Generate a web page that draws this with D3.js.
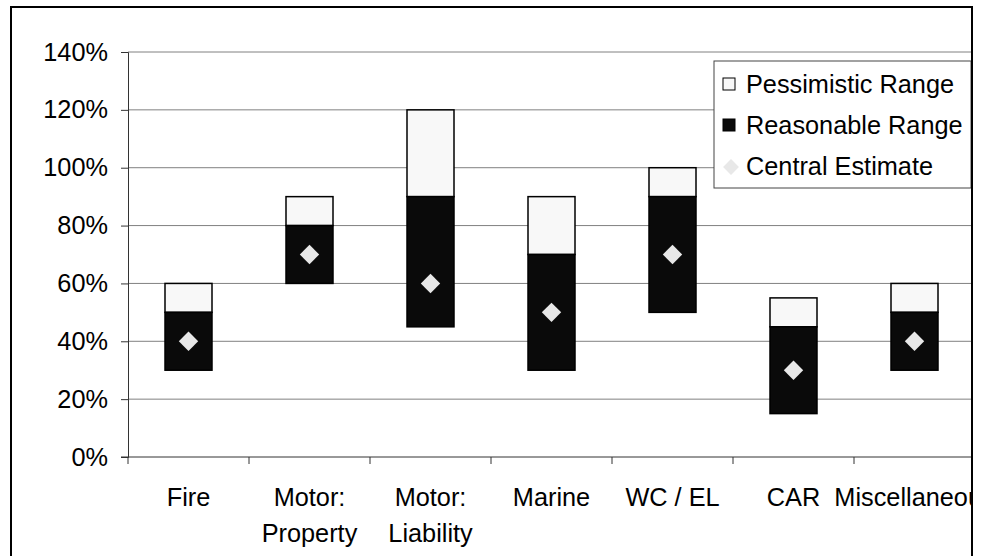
<!DOCTYPE html>
<html>
<head>
<meta charset="utf-8">
<script src="https://cdn.jsdelivr.net/npm/d3@7"></script>
<style>
  body { margin: 0; background: #fff; }
  text { font-family: "Liberation Sans", Arial, sans-serif; }
</style>
</head>
<body>
<main></main>
<script>
const categories = ['Fire', 'Motor: Property', 'Motor: Liability', 'Marine', 'WC / EL', 'CAR', 'Miscellaneous'];
const reasonableLow = [0.30, 0.60, 0.45, 0.30, 0.50, 0.15, 0.30];
const reasonableHigh = [0.50, 0.80, 0.90, 0.70, 0.90, 0.45, 0.50];
const pessimisticHigh = [0.60, 0.90, 1.20, 0.90, 1.00, 0.55, 0.60];
const centralEstimate = [0.40, 0.70, 0.60, 0.50, 0.70, 0.30, 0.40];
const yTicks = [0, 0.2, 0.4, 0.6, 0.8, 1.0, 1.2, 1.4];
const legendItems = ['Pessimistic Range', 'Reasonable Range', 'Central Estimate'];

const width = 986, height = 556;
const fontSize = 25.3;

const root = d3.select('main')
    .append('svg')
    .attr('width', width)
    .attr('height', height);

root.append('clipPath')
    .attr('id', 'frame')
    .append('rect')
    .attr('x', 11).attr('y', 7)
    .attr('width', 961).attr('height', 560);

const svg = root.append('g').attr('clip-path', 'url(#frame)');

const xScale = d3.scaleBand()
    .domain(categories)
    .range([128, 975]);

const yScale = d3.scaleLinear()
    .domain([0, 1.4])
    .range([457, 52]);

// gridlines
svg.append('g')
    .selectAll('line')
    .data(yTicks.filter(d => d > 0))
    .enter()
    .append('line')
    .attr('x1', 128)
    .attr('x2', 975)
    .attr('y1', d => yScale(d))
    .attr('y2', d => yScale(d))
    .attr('stroke', '#808080')
    .attr('stroke-width', 1);

// y axis
const yAxis = svg.append('g')
    .attr('transform', 'translate(128, 0)')
    .call(d3.axisLeft(yScale)
        .tickValues(yTicks)
        .tickFormat(d3.format('.0%'))
        .tickSize(7)
        .tickPadding(13));
yAxis.select('.domain').attr('stroke', '#333');
yAxis.selectAll('.tick line').attr('stroke', '#333');
yAxis.selectAll('.tick text')
    .attr('font-size', fontSize)
    .attr('fill', '#000')
    .style('font-family', '"Liberation Sans", Arial, sans-serif');

// x axis, ticks on band boundaries
const xg = svg.append('g');
xg.append('line')
    .attr('x1', 121).attr('x2', 975)
    .attr('y1', 457).attr('y2', 457)
    .attr('stroke', '#333');
const boundaries = categories.map(c => xScale(c)).concat([xScale.range()[1]]);
xg.selectAll('.xt')
    .data(boundaries)
    .enter()
    .append('line')
    .attr('x1', d => d).attr('x2', d => d)
    .attr('y1', 457).attr('y2', 464)
    .attr('stroke', '#333');

const labels = xg.selectAll('.xl')
    .data(categories)
    .enter()
    .append('text')
    .attr('text-anchor', 'middle')
    .attr('font-size', fontSize)
    .attr('fill', '#000')
    .attr('x', d => xScale(d) + xScale.bandwidth() / 2)
    .attr('y', 506);
labels.each(function (d) {
    const parts = d.indexOf(': ') >= 0 ? [d.split(': ')[0] + ':', d.split(': ')[1]] : [d];
    const t = d3.select(this);
    parts.forEach((p, i) => {
        t.append('tspan')
            .attr('x', xScale(d) + xScale.bandwidth() / 2)
            .attr('dy', i === 0 ? 0 : 36)
            .text(p);
    });
});

// bars
const barW = 47;
const cx = (i) => xScale(categories[i]) + xScale.bandwidth() / 2;

svg.append('g')
    .selectAll('rect')
    .data(categories)
    .enter()
    .append('rect')
    .attr('x', (d, i) => cx(i) - barW / 2)
    .attr('width', barW)
    .attr('y', (d, i) => yScale(pessimisticHigh[i]))
    .attr('height', (d, i) => yScale(reasonableHigh[i]) - yScale(pessimisticHigh[i]))
    .attr('fill', '#f8f8f8')
    .attr('stroke', '#000')
    .attr('stroke-width', 1.5);

svg.append('g')
    .selectAll('rect')
    .data(categories)
    .enter()
    .append('rect')
    .attr('x', (d, i) => cx(i) - barW / 2)
    .attr('width', barW)
    .attr('y', (d, i) => yScale(reasonableHigh[i]))
    .attr('height', (d, i) => yScale(reasonableLow[i]) - yScale(reasonableHigh[i]))
    .attr('fill', '#0a0a0a')
    .attr('stroke', '#000')
    .attr('stroke-width', 1.5);

const diamond = d3.symbol().type(d3.symbolDiamond2).size(240);
svg.append('g')
    .selectAll('path')
    .data(categories)
    .enter()
    .append('path')
    .attr('d', diamond)
    .attr('transform', (d, i) => `translate(${cx(i)}, ${yScale(centralEstimate[i])})`)
    .attr('fill', '#e8e8e8');

// legend
const legend = svg.append('g');
legend.append('rect')
    .attr('x', 714).attr('y', 61)
    .attr('width', 257).attr('height', 127)
    .attr('fill', '#fff')
    .attr('stroke', '#444')
    .attr('stroke-width', 1);
legendItems.forEach((name, i) => {
    const y = 84 + i * 41;
    if (i < 2) {
        legend.append('rect')
            .attr('x', 723).attr('y', y - 6)
            .attr('width', 12).attr('height', 12)
            .attr('fill', i === 0 ? '#f8f8f8' : '#0a0a0a')
            .attr('stroke', '#000');
    } else {
        legend.append('path')
            .attr('d', d3.symbol().type(d3.symbolDiamond2).size(160))
            .attr('transform', `translate(731, ${y + 1})`)
            .attr('fill', '#e8e8e8');
    }
    legend.append('text')
        .attr('x', 746)
        .attr('y', y + 9)
        .attr('font-size', fontSize)
        .attr('fill', '#000')
        .text(name);
});

// outer frame
root.append('rect')
    .attr('x', 11).attr('y', 7)
    .attr('width', 961).attr('height', 560)
    .attr('fill', 'none')
    .attr('stroke', '#000')
    .attr('stroke-width', 2);
</script>
</body>
</html>
